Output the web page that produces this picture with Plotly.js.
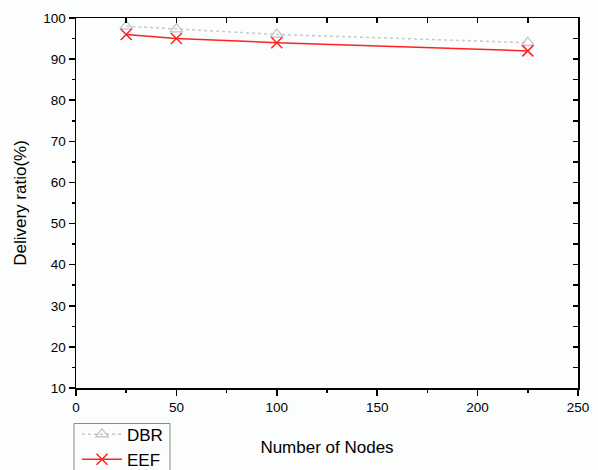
<!DOCTYPE html>
<html>
<head>
<meta charset="utf-8">
<script src="https://cdn.plot.ly/plotly-3.0.1.min.js"></script>
<style>html,body{margin:0;padding:0;background:#fcfdfd;overflow:hidden;width:598px;height:470px;}#wrap{width:598px;height:470px;overflow:hidden;}#chart{width:598px;height:490px;}</style>
</head>
<body>
<div id="wrap"><div id="chart"></div></div>
<script>
const nodes = [25, 50, 100, 225];
const dbr = [98, 97.3, 96, 94];
const eef = [96, 95, 94, 92];

const font = 'Arial, "Liberation Sans", sans-serif';

const traces = [
  {x: nodes, y: dbr, name: 'DBR', mode: 'lines+markers', type: 'scatter',
   line: {color: '#c8c8c8', width: 1.5, dash: 'dot'},
   marker: {symbol: 'triangle-up-open', size: 11, color: '#c0c0c0', line: {width: 1.2, color: '#c0c0c0'}}},
  {x: nodes, y: eef, name: 'EEF', mode: 'lines+markers', type: 'scatter',
   line: {color: '#ff2020', width: 1.5},
   marker: {symbol: 'x-thin-open', size: 11, color: '#ff2020', line: {width: 1.5, color: '#ff2020'}}},
  {x: [0], y: [10], xaxis: 'x2', yaxis: 'y2', showlegend: false, hoverinfo: 'skip', mode: 'markers', marker: {opacity: 0}}
];

const H = 490, PB = 393;

const layout = {
  width: 598, height: H,
  margin: {l: 76, r: 20, t: 18, b: H - PB},
  paper_bgcolor: '#fcfdfd', plot_bgcolor: '#fcfdfd',
  font: {family: font, color: '#000', size: 13.5},
  showlegend: true,
  xaxis: {
    range: [0, 250], dtick: 50, tick0: 0,
    showgrid: false, zeroline: false,
    showline: true, linecolor: '#000', linewidth: 1.5,
    ticks: 'outside', ticklen: 6, tickwidth: 1.5, tickcolor: '#000',
    minor: {dtick: 25, ticks: 'outside', ticklen: 3, tickwidth: 1.5, tickcolor: '#000', showgrid: false},
    tickfont: {size: 13.5},
    title: {text: 'Number of Nodes', font: {size: 17}, standoff: 27}
  },
  yaxis: {
    range: [10, 100], dtick: 10, tick0: 0,
    showgrid: false, zeroline: false,
    showline: true, linecolor: '#000', linewidth: 1.5,
    ticks: 'outside', ticklen: 6, tickwidth: 1.5, tickcolor: '#000',
    minor: {dtick: 5, ticks: 'outside', ticklen: 3, tickwidth: 1.5, tickcolor: '#000', showgrid: false},
    tickfont: {size: 13.5},
    title: {text: 'Delivery ratio(%)', font: {size: 17}, standoff: 12}
  },
  xaxis2: {
    overlaying: 'x', side: 'top', range: [0, 250], dtick: 25, tick0: 0,
    showgrid: false, zeroline: false, showticklabels: false,
    showline: true, linecolor: '#000', linewidth: 1.5,
    ticks: 'inside', ticklen: 5, tickwidth: 1.5, tickcolor: '#000'
  },
  yaxis2: {
    overlaying: 'y', side: 'right', range: [10, 100], dtick: 5, tick0: 0,
    showgrid: false, zeroline: false, showticklabels: false,
    showline: true, linecolor: '#000', linewidth: 1.5,
    ticks: 'inside', ticklen: 5, tickwidth: 1.5, tickcolor: '#000'
  },
  legend: {
    x: 0.002, y: (PB - 422) / 375, xanchor: 'left', yanchor: 'top',
    borderwidth: 0, bgcolor: 'rgba(0,0,0,0)',
    font: {size: 17}, tracegroupgap: 0, itemwidth: 40
  },
  shapes: [
    {type: 'rect', xref: 'paper', yref: 'paper',
     x0: (74 - 76) / 502, x1: (170 - 76) / 502,
     y0: (PB - 429) / 375, y1: (PB - 500) / 375,
     line: {color: '#888', width: 1}, fillcolor: 'rgba(0,0,0,0)'}
  ]
};

Plotly.newPlot('chart', traces, layout, {displayModeBar: false, staticPlot: true});
</script>
</body>
</html>
